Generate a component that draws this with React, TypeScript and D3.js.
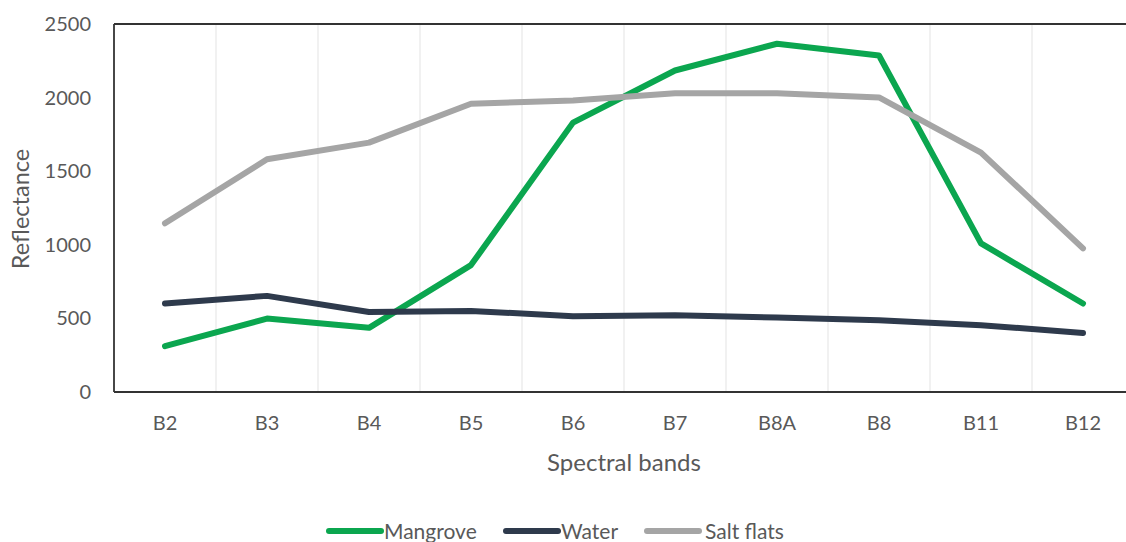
import React from "react";
import * as d3 from "d3";

const bands = ["B2", "B3", "B4", "B5", "B6", "B7", "B8A", "B8", "B11", "B12"];
const mangrove = [311, 499, 436, 862, 1830, 2184, 2366, 2286, 1010, 601];
const water = [601, 653, 544, 551, 515, 522, 506, 488, 454, 401];
const saltFlats = [1146, 1581, 1694, 1958, 1980, 2030, 2030, 2001, 1626, 976];
const yTicks = [0, 500, 1000, 1500, 2000, 2500];

const seriesList = [
  { name: "Mangrove", values: mangrove, color: "#0BA64F" },
  { name: "Water", values: water, color: "#2E3A4C" },
  { name: "Salt flats", values: saltFlats, color: "#A5A5A5" },
];

const W = 1126;
const H = 542;
const left = 114;
const right = 1134;
const top = 24;
const bottom = 392;
const FONT = "Lato, 'Open Sans', sans-serif";
const TEXT = "#595959";

export default function App() {
  const x = d3.scaleBand<string>().domain(bands).range([left, right]).padding(0);
  const y = d3.scaleLinear().domain([0, 2500]).range([bottom, top]);
  const cx = (b: string) => (x(b) as number) + x.bandwidth() / 2;
  const line = d3
    .line<number>()
    .x((_, i) => cx(bands[i]))
    .y((v) => y(v));

  const legendItems = [
    { x0: 329, tx: 384 },
    { x0: 506, tx: 561 },
    { x0: 647, tx: 705 },
  ];

  return (
    <svg width={W} height={H} style={{ position: "absolute", left: 0, top: 0, background: "#fff" }}>
      <rect x={0} y={0} width={W} height={H} fill="#fff" />
      {bands.slice(1).map((b) => (
        <line key={b} x1={x(b)} x2={x(b)} y1={top} y2={bottom} stroke="#E8E8E8" strokeWidth={1.2} />
      ))}
      <line x1={left} x2={W} y1={top} y2={top} stroke="#333" strokeWidth={1.8} />
      <line x1={left} x2={left} y1={top} y2={bottom} stroke="#333" strokeWidth={1.8} />
      <line x1={left} x2={W} y1={bottom} y2={bottom} stroke="#333" strokeWidth={1.8} />
      {yTicks.map((t) => (
        <text key={t} x={91} y={y(t)} dy="0.35em" textAnchor="end" fontFamily={FONT} fontSize={20} fill={TEXT}>
          {t}
        </text>
      ))}
      {bands.map((b) => (
        <text key={b} x={cx(b)} y={430} textAnchor="middle" fontFamily={FONT} fontSize={20} fill={TEXT}>
          {b}
        </text>
      ))}
      <text x={624} y={471} textAnchor="middle" fontFamily={FONT} fontSize={24} fill={TEXT}>
        Spectral bands
      </text>
      <text
        transform={`translate(29, 209) rotate(-90)`}
        textAnchor="middle"
        fontFamily={FONT}
        fontSize={23.5}
        fill={TEXT}
      >
        Reflectance
      </text>
      {seriesList.map((s) => (
        <path
          key={s.name}
          d={line(s.values) || ""}
          fill="none"
          stroke={s.color}
          strokeWidth={6}
          strokeLinejoin="round"
          strokeLinecap="round"
        />
      ))}
      {seriesList.map((s, i) => (
        <g key={s.name}>
          <line
            x1={legendItems[i].x0}
            x2={legendItems[i].x0 + 52}
            y1={531}
            y2={531}
            stroke={s.color}
            strokeWidth={6}
            strokeLinecap="round"
          />
          <text x={legendItems[i].tx} y={539} fontFamily={FONT} fontSize={21} fill={TEXT}>
            {s.name}
          </text>
        </g>
      ))}
    </svg>
  );
}
